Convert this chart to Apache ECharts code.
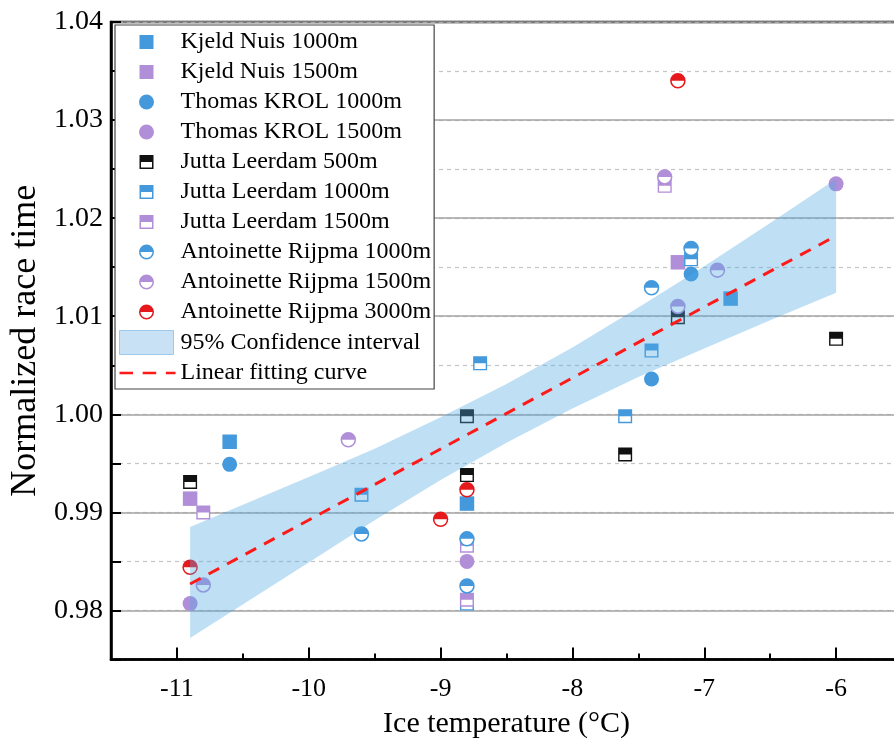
<!DOCTYPE html>
<html>
<head>
<meta charset="utf-8">
<script src="https://cdn.jsdelivr.net/npm/echarts@6/dist/echarts.min.js"></script>
<style>
  html, body { margin: 0; padding: 0; background: #fff; }
  #chart { width: 894px; height: 755px; }
</style>
</head>
<body>
<div id="chart"></div>
<script>
// ---- data: [ice temperature (°C), normalized race time] ----
const kjeldNuis1000 = [[-10.6, 0.9972], [-8.8, 0.9909], [-6.8, 1.0118]];
const kjeldNuis1500 = [[-10.9, 0.9914], [-7.2, 1.0155]];
const thomasKrol1000 = [[-10.6, 0.9949], [-7.4, 1.0036], [-7.1, 1.0143]];
const thomasKrol1500 = [[-10.9, 0.9807], [-8.8, 0.9850], [-6.0, 1.0235]];
const juttaLeerdam500 = [[-10.9, 0.9931], [-8.8, 0.9998], [-8.8, 0.9938], [-7.6, 0.9959], [-7.2, 1.0099], [-6.0, 1.0077]];
const juttaLeerdam1000 = [[-9.6, 0.9918], [-8.7, 1.0052], [-8.8, 0.9807], [-7.6, 0.9998], [-7.4, 1.0065], [-7.1, 1.0158]];
const juttaLeerdam1500 = [[-10.8, 0.9900], [-8.8, 0.9866], [-8.8, 0.9811], [-7.3, 1.0233]];
const antoinette1000 = [[-9.6, 0.9878], [-8.8, 0.9873], [-8.8, 0.9825], [-7.4, 1.0129], [-7.1, 1.0169]];
const antoinette1500 = [[-10.8, 0.9826], [-9.7, 0.9974], [-7.3, 1.0242], [-7.2, 1.0110], [-6.9, 1.0147]];
const antoinette3000 = [[-10.9, 0.9844], [-9.0, 0.9893], [-8.8, 0.9923], [-7.2, 1.0340]];

// linear fit end points
const fitX = [-10.9, -6.0];
const fitY = [0.9827, 1.0182];

// 95% confidence band
const bandX = [-10.9, -10.0, -9.5, -9.0, -8.5, -8.0, -7.5, -7.0, -6.5, -6.0];
const bandUpper = [0.9885, 0.9936, 0.9965, 0.9997, 1.0031, 1.0068, 1.0109, 1.0151, 1.0195, 1.0240];
const bandLower = [0.9772, 0.9849, 0.9892, 0.9933, 0.9971, 1.0006, 1.0038, 1.0067, 1.0096, 1.0124];

// axis ticks
const xTickValues = [-11, -10, -9, -8, -7, -6];
const yMajorValues = [0.98, 0.99, 1.00, 1.01, 1.02, 1.03, 1.04];

// ---- styling ----
const FONT = 'Liberation Serif';
const BLUE = '#4399dc';
const PURPLE = '#b18fd8';
const RED = '#e5191b';
const BLACK = '#111111';
const FIT_RED = '#ff1a1a';

// marker shapes (top half filled, bottom half outlined)
const HALF_SQUARE = 'path://M0,0H20V10H0Z M0,10H20V20H0Z M2,10V18H18V10Z';
const HALF_CIRCLE = 'path://M0,10A10,10,0,0,1,20,10Z M0,10A10,10,0,0,0,20,10Z M18,10A8,8,0,0,1,2,10Z';

// legend icons padded to the 56x24 legend slot
const ICON_SQUARE = 'path://M0,0M56,24 M20,5H34V19H20Z';
const ICON_CIRCLE = 'path://M0,0M56,24 M19.5,12A7.5,7.5,0,1,1,34.5,12A7.5,7.5,0,1,1,19.5,12Z';
const ICON_HALF_SQUARE = 'path://M0,0M56,24 M20,5H34V12H20Z M20,12H34V19H20Z M21.5,12V17.5H32.5V12Z';
const ICON_HALF_CIRCLE = 'path://M0,0M56,24 M19.5,12A7.5,7.5,0,0,1,34.5,12Z M19.5,12A7.5,7.5,0,0,0,34.5,12Z M33,12A6,6,0,0,1,21,12Z';
const ICON_BAND = 'path://M0,0M56,24 M0,0H54V24H0Z';
const ICON_DASH = 'path://M0,0M56,24 M-2,10.8H12V13.2H-2Z M22,10.8H36V13.2H22Z M46,10.8H56V13.2H46Z';

const groups = [
  { name: 'Kjeld Nuis 1000m', data: kjeldNuis1000, color: BLUE, kind: 'square' },
  { name: 'Kjeld Nuis 1500m', data: kjeldNuis1500, color: PURPLE, kind: 'square' },
  { name: 'Thomas KROL 1000m', data: thomasKrol1000, color: BLUE, kind: 'circle' },
  { name: 'Thomas KROL 1500m', data: thomasKrol1500, color: PURPLE, kind: 'circle' },
  { name: 'Jutta Leerdam 500m', data: juttaLeerdam500, color: BLACK, kind: 'halfSquare' },
  { name: 'Jutta Leerdam 1000m', data: juttaLeerdam1000, color: BLUE, kind: 'halfSquare' },
  { name: 'Jutta Leerdam 1500m', data: juttaLeerdam1500, color: PURPLE, kind: 'halfSquare' },
  { name: 'Antoinette Rijpma 1000m', data: antoinette1000, color: BLUE, kind: 'halfCircle' },
  { name: 'Antoinette Rijpma 1500m', data: antoinette1500, color: PURPLE, kind: 'halfCircle' },
  { name: 'Antoinette Rijpma 3000m', data: antoinette3000, color: RED, kind: 'halfCircle' }
];

const symbolFor = { square: 'rect', circle: 'circle', halfSquare: HALF_SQUARE, halfCircle: HALF_CIRCLE };
const sizeFor = { square: 14.5, circle: 15, halfSquare: 14, halfCircle: 15.5 };
const iconFor = { square: ICON_SQUARE, circle: ICON_CIRCLE, halfSquare: ICON_HALF_SQUARE, halfCircle: ICON_HALF_CIRCLE };

const series = [];
groups.forEach(function (g, i) {
  if (g.kind === 'halfSquare' || g.kind === 'halfCircle') {
    // white body underneath the half-filled marker
    series.push({
      type: 'scatter', name: 'base-' + i, data: g.data, z: 2, silent: true,
      symbol: g.kind === 'halfSquare' ? 'rect' : 'circle',
      symbolSize: sizeFor[g.kind] - 1,
      itemStyle: { color: '#ffffff', opacity: 1 }
    });
  }
  series.push({
    type: 'scatter', name: g.name, data: g.data, z: 2,
    symbol: symbolFor[g.kind], symbolSize: sizeFor[g.kind],
    itemStyle: { color: g.color, opacity: 1 }
  });
});

series.push({
  type: 'custom', name: '95% Confidence interval', z: 3, silent: true,
  data: [0],
  itemStyle: { color: 'rgba(81,168,227,0.37)' },
  renderItem: function (params, api) {
    const pts = [];
    for (let i = 0; i < bandX.length; i++) pts.push(api.coord([bandX[i], bandUpper[i]]));
    for (let i = bandX.length - 1; i >= 0; i--) pts.push(api.coord([bandX[i], bandLower[i]]));
    return { type: 'polygon', shape: { points: pts }, style: { fill: 'rgba(81,168,227,0.37)' } };
  }
});

series.push({
  type: 'line', name: 'Linear fitting curve', z: 4, silent: true,
  data: fitX.map(function (x, i) { return [x, fitY[i]]; }),
  symbol: 'none', showSymbol: false,
  itemStyle: { color: FIT_RED },
  lineStyle: { color: FIT_RED, width: 3, type: [12, 9] }
});

const legendData = groups.map(function (g) {
  return { name: g.name, icon: iconFor[g.kind] };
});
legendData.push({ name: '95% Confidence interval', icon: ICON_BAND,
  itemStyle: { color: '#c8e1f4', borderColor: '#9fc9ea', borderWidth: 1 } });
legendData.push({ name: 'Linear fitting curve', icon: ICON_DASH,
  itemStyle: { color: FIT_RED, borderWidth: 0 } });

const onHundredth = function (v) { return Math.abs(Math.round(v * 100) - v * 100) < 1e-6; };

const option = {
  backgroundColor: '#ffffff',
  animation: false,
  grid: {
    left: 111, top: 22, width: 791, height: 637.5,
    outerBoundsMode: 'none', containLabel: false,
    show: true, borderColor: '#000', borderWidth: 2.5, backgroundColor: 'transparent'
  },
  legend: {
    orient: 'vertical', left: 115, top: 25,
    padding: [5, 3, 4, 4],
    itemWidth: 56, itemHeight: 24, itemGap: 6, itemTextGap: 4,
    symbolKeepAspect: false,
    backgroundColor: '#ffffff', borderColor: '#444', borderWidth: 1.2,
    textStyle: { fontFamily: FONT, fontSize: 24, color: '#000', lineHeight: 24 },
    selectedMode: false,
    data: legendData
  },
  xAxis: [
    {
      type: 'value', min: -11.5, max: -5.5, interval: 0.5,
      axisLine: { show: true, lineStyle: { color: '#000', width: 2.5 } },
      axisTick: { show: true, inside: true, length: 6, lineStyle: { color: '#000', width: 2 } },
      axisLabel: {
        fontFamily: FONT, fontSize: 26, color: '#000', margin: 17,
        formatter: function (v) { return Math.abs(v - Math.round(v)) < 1e-6 ? String(Math.round(v)) : ''; }
      },
      splitLine: { show: false },
      name: 'Ice temperature (°C)', nameLocation: 'middle', nameGap: 50,
      nameTextStyle: { fontFamily: FONT, fontSize: 30, color: '#000' }
    },
    {
      type: 'value', min: -11.5, max: -5.5, position: 'bottom',
      axisLine: { show: false },
      axisTick: { show: true, inside: true, length: 12, customValues: xTickValues, lineStyle: { color: '#000', width: 2 } },
      axisLabel: { show: false },
      splitLine: { show: false }
    }
  ],
  yAxis: [
    {
      type: 'value', min: 0.975, max: 1.04, interval: 0.005,
      axisLine: { show: true, lineStyle: { color: '#000', width: 2.5 } },
      axisTick: { show: true, inside: true, length: 10, lineStyle: { color: '#000', width: 2 } },
      axisLabel: {
        fontFamily: FONT, fontSize: 28, color: '#000', margin: 8,
        formatter: function (v) { return onHundredth(v) ? v.toFixed(2) : ''; }
      },
      splitLine: { show: true, lineStyle: { color: '#c4c4c4', width: 1.2, type: [4, 4] } },
      name: 'Normalized race time', nameLocation: 'middle', nameGap: 61,
      nameTextStyle: { fontFamily: FONT, fontSize: 36, color: '#000' }
    },
    {
      type: 'value', min: 0.975, max: 1.04, position: 'left',
      axisLine: { show: false },
      axisTick: { show: false, customValues: yMajorValues },
      axisLabel: { show: false },
      splitLine: { show: true, lineStyle: { color: '#a3a3a3', width: 1.6, type: 'solid' } }
    }
  ],
  series: series
};

const chart = echarts.init(document.getElementById('chart'), null, { renderer: 'canvas' });
chart.setOption(option);
</script>
</body>
</html>
